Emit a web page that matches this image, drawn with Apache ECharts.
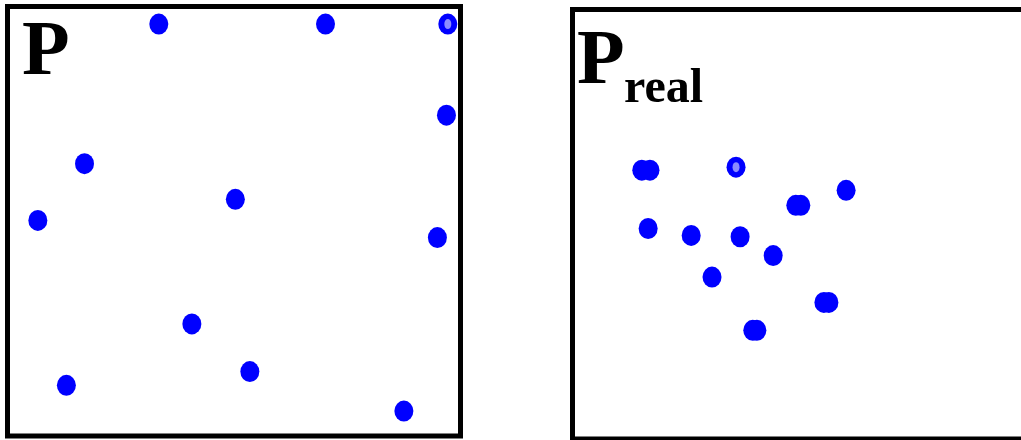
<!DOCTYPE html>
<html>
<head>
    <meta charset="utf-8">
    <title>P / P real</title>
    <script src="https://cdn.jsdelivr.net/npm/echarts@6/dist/echarts.min.js"></script>
    <style>
        html, body { margin: 0; padding: 0; background: #fff; }
    </style>
</head>
<body>
    <div id="main" style="width: 1021px;height:440px;"></div>
    <script type="text/javascript">
        // points in the left box (P), 0-100 scale
        var pX = [33.4, 70.2, 97.2, 96.9, 17.0, 50.3, 6.7, 94.9, 40.7, 53.5, 13.0, 87.5];
        var pY = [95.9, 95.9, 95.9, 74.7, 63.4, 55.1, 50.2, 46.2, 26.1, 15.0, 11.8, 5.8];
        var pMarked = 2; // index of the marked point

        // points in the right box (P real), same scale
        var realX = [15.3, 17.1, 36.1, 16.7, 26.2, 37.0, 49.3, 50.4, 60.4, 44.3, 30.8, 55.5, 56.6, 39.8, 40.7];
        var realY = [62.6, 62.6, 63.3, 49.0, 47.4, 47.1, 54.4, 54.4, 57.9, 42.7, 37.7, 31.8, 31.8, 25.3, 25.3];
        var realMarked = 2;

        function pairs(xs, ys) {
            var out = [];
            for (var i = 0; i < xs.length; i++) {
                out.push([xs[i], ys[i]]);
            }
            return out;
        }

        var chart = echarts.init(document.getElementById('main'));
        var serif = '"Liberation Serif", "DejaVu Serif", serif';

        var option = {
            animation: false,
            backgroundColor: '#fff',
            title: [
                { text: 'P', left: 17, top: 10, textStyle: { fontFamily: serif, fontWeight: 'bold', fontSize: 78, color: '#000' } },
                { text: 'P', left: 572, top: 19, textStyle: { fontFamily: serif, fontWeight: 'bold', fontSize: 78, color: '#000' } },
                { text: 'real', left: 619, top: 61, textStyle: { fontFamily: serif, fontWeight: 'bold', fontSize: 48, color: '#000' } }
            ],
            grid: [
                { left: 7.5, top: 6.5, width: 453, height: 429.5, show: true, borderColor: '#000', borderWidth: 5, backgroundColor: '#fff', outerBoundsMode: 'none' },
                // right box runs past the edge of the picture
                { left: 572.5, top: 9.5, width: 465, height: 429.5, show: true, borderColor: '#000', borderWidth: 5, backgroundColor: '#fff', outerBoundsMode: 'none' }
            ],
            xAxis: [
                { gridIndex: 0, type: 'value', min: 0, max: 100, show: false },
                { gridIndex: 1, type: 'value', min: 0, max: 102.65, show: false }
            ],
            yAxis: [
                { gridIndex: 0, type: 'value', min: 0, max: 100, show: false },
                { gridIndex: 1, type: 'value', min: 0, max: 100, show: false }
            ],
            series: [
                {
                    type: 'scatter', xAxisIndex: 0, yAxisIndex: 0,
                    symbol: 'circle', symbolSize: [19, 21],
                    itemStyle: { color: '#0000ff', opacity: 1 },
                    data: pairs(pX, pY)
                },
                {
                    type: 'scatter', xAxisIndex: 0, yAxisIndex: 0,
                    symbol: 'circle', symbolSize: [7, 10],
                    itemStyle: { color: '#8c8cff', opacity: 1 },
                    data: [[pX[pMarked], pY[pMarked]]]
                },
                {
                    type: 'scatter', xAxisIndex: 1, yAxisIndex: 1,
                    symbol: 'circle', symbolSize: [19, 21],
                    itemStyle: { color: '#0000ff', opacity: 1 },
                    data: pairs(realX, realY)
                },
                {
                    type: 'scatter', xAxisIndex: 1, yAxisIndex: 1,
                    symbol: 'circle', symbolSize: [7, 10],
                    itemStyle: { color: '#8c8cff', opacity: 1 },
                    data: [[realX[realMarked], realY[realMarked]]]
                }
            ]
        };
        chart.setOption(option);
    </script>
</body>
</html>
